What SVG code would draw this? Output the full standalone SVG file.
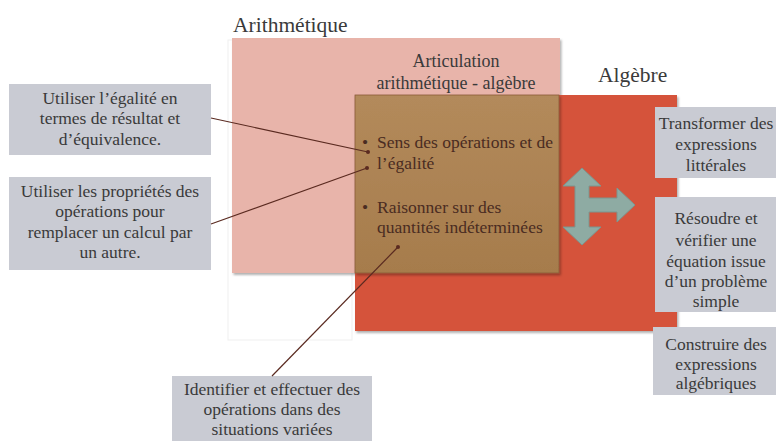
<svg xmlns="http://www.w3.org/2000/svg" width="776" height="441" viewBox="0 0 776 441" font-family="'Liberation Serif', 'DejaVu Serif', 'Times New Roman', serif">
<defs>
<filter id="sh" x="-5%" y="-5%" width="115%" height="115%">
<feDropShadow dx="1.5" dy="2" stdDeviation="1.2" flood-color="#000" flood-opacity="0.3"/>
</filter>
<linearGradient id="brown" x1="0" y1="0" x2="0" y2="1">
<stop offset="0" stop-color="#b38a5b"/>
<stop offset="1" stop-color="#a67c4c"/>
</linearGradient>
<marker id="dot" viewBox="0 0 6 6" refX="3" refY="3" markerWidth="4" markerHeight="4" markerUnits="userSpaceOnUse">
<circle cx="3" cy="3" r="3" fill="#5a2a20"/>
</marker>
</defs>
<style>
text{font-family:'Liberation Serif','DejaVu Serif','Times New Roman',serif}
.t{fill:#3a3a3a;font-size:17.5px;text-anchor:middle}
.title{fill:#3a3a3a;font-size:21.5px}
.bul{fill:#4a2c22;font-size:17.5px}
.box{fill:#c9cbd3}
.con{stroke:#5a2a20;stroke-width:1.2;fill:none;marker-end:url(#dot)}
</style>
<rect width="776" height="441" fill="#fff"/>
<rect x="228" y="40" width="124" height="300" fill="none" stroke="#efefef" stroke-width="1"/>

<g id="arithmetique">
<rect x="232" y="38" width="328" height="235" fill="#e8b4aa" filter="url(#sh)"/>
<text class="title" x="233" y="32">Arithmétique</text>
</g>
<g id="algebre">
<rect x="355" y="95" width="322" height="236" fill="#d5533b" filter="url(#sh)"/>
<text class="title" x="598" y="82">Algèbre</text>
</g>
<g id="articulation">
<rect x="355" y="95" width="204" height="178" fill="url(#brown)" stroke="#8a5a38" stroke-width="0.8" filter="url(#sh)"/>
<text class="t" x="456" y="67" style="font-size:18px">Articulation</text>
<text class="t" x="456" y="89" style="font-size:18px">arithmétique - algèbre</text>
<text class="bul" x="362" y="148">•</text>
<text class="bul" x="377" y="148">Sens des opérations et de</text>
<text class="bul" x="377" y="169">l’égalité</text>
<text class="bul" x="362" y="213">•</text>
<text class="bul" x="377" y="213">Raisonner sur des</text>
<text class="bul" x="377" y="233">quantités indéterminées</text>
</g>
<g id="fleche">
<path d="M582,168 L601,186 L589,186 L589,198 L617,198 L617,188 L635,205 L617,222 L617,212 L589,212 L589,227 L601,227 L582,245 L563,227 L575,227 L575,186 L563,186 Z" fill="#8eaba3" stroke="#7b968f" stroke-width="1"/>
</g>

<g id="b1">
<rect class="box" x="9" y="84" width="202" height="71"/>
<text class="t" x="110" y="104">Utiliser l’égalité en</text>
<text class="t" x="110" y="124">termes de résultat et</text>
<text class="t" x="110" y="145">d’équivalence.</text>
</g>
<g id="b2">
<rect class="box" x="9" y="177" width="202" height="93"/>
<text class="t" x="110" y="197">Utiliser les propriétés des</text>
<text class="t" x="110" y="217">opérations pour</text>
<text class="t" x="110" y="238">remplacer un calcul par</text>
<text class="t" x="110" y="258">un autre.</text>
</g>
<g id="b3">
<rect class="box" x="172" y="376" width="200" height="70"/>
<text class="t" x="272" y="395">Identifier et effectuer des</text>
<text class="t" x="272" y="415">opérations dans des</text>
<text class="t" x="272" y="435">situations variées</text>
</g>
<g id="r1">
<rect class="box" x="655" y="107" width="125" height="71"/>
<text class="t" x="716" y="129">Transformer des</text>
<text class="t" x="716" y="150">expressions</text>
<text class="t" x="716" y="171">littérales</text>
</g>
<g id="r2">
<rect class="box" x="655" y="197" width="125" height="115"/>
<text class="t" x="716" y="224">Résoudre et</text>
<text class="t" x="716" y="246">vérifier une</text>
<text class="t" x="716" y="267">équation issue</text>
<text class="t" x="716" y="287">d’un problème</text>
<text class="t" x="716" y="307">simple</text>
</g>
<g id="r3">
<rect class="box" x="653" y="327" width="127" height="68"/>
<text class="t" x="716" y="350">Construire des</text>
<text class="t" x="716" y="370">expressions</text>
<text class="t" x="716" y="389">algébriques</text>
</g>

<g id="connecteurs">
<line class="con" x1="211" y1="118" x2="368" y2="152"/>
<line class="con" x1="211" y1="224" x2="367" y2="168"/>
<line class="con" x1="272" y1="376" x2="398" y2="247"/>
</g>
</svg>
